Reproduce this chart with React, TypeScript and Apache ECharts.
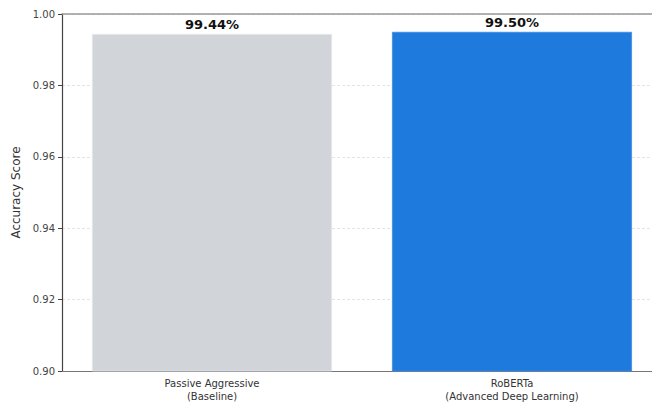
import React, { useEffect, useRef } from "react";
import * as echarts from "echarts";

const categories = ["Passive Aggressive\n(Baseline)", "RoBERTa\n(Advanced Deep Learning)"];
const accuracies = [0.9944, 0.995];
const barColors = ["#d1d4d9", "#1f7ade"];
const yTicks = { min: 0.9, max: 1.0, interval: 0.02 };
const yAxisTitle = "Accuracy Score";

export default function App() {
  const ref = useRef<HTMLDivElement>(null);
  useEffect(() => {
    if (!ref.current) return;
    const chart = echarts.init(ref.current, null, { renderer: "svg" });
    const font = "DejaVu Sans";
    chart.setOption({
      animation: false,
      backgroundColor: "#ffffff",
      grid: { left: 62, top: 14, right: 0, bottom: 33 },
      xAxis: [
        {
          type: "category",
          data: categories,
          position: "bottom",
          axisLine: { lineStyle: { color: "#777", width: 1.2 } },
          axisTick: { alignWithLabel: true, length: 4, lineStyle: { color: "#333" } },
          axisLabel: {
            color: "#333",
            fontFamily: font,
            fontSize: 10,
            lineHeight: 13,
            margin: 6,
          },
        },
        {
          type: "category",
          data: categories,
          position: "top",
          axisLine: { lineStyle: { color: "#999", width: 1.5 } },
          axisTick: { show: false },
          axisLabel: { show: false },
        },
      ],
      yAxis: {
        type: "value",
        min: yTicks.min,
        max: yTicks.max,
        interval: yTicks.interval,
        name: yAxisTitle,
        nameLocation: "middle",
        nameGap: 39,
        nameTextStyle: { color: "#333", fontFamily: font, fontSize: 12 },
        axisLine: { show: true, lineStyle: { color: "#444", width: 1.2 } },
        axisTick: { show: true, length: 4, lineStyle: { color: "#444" } },
        axisLabel: {
          color: "#444",
          fontFamily: font,
          fontSize: 10,
          margin: 7,
          formatter: (v: number) => v.toFixed(2),
        },
        splitLine: { show: true, lineStyle: { color: "#dddddd", type: [3, 2], width: 0.8 } },
      },
      series: [
        {
          type: "bar",
          barWidth: "80%",
          data: accuracies.map((v, i) => ({
            value: v,
            itemStyle: { color: barColors[i], borderColor: i === 0 ? "#e2e4e8" : "#3b8ce6", borderWidth: 0.8 },
          })),
          label: {
            show: true,
            position: "top",
            distance: 3,
            color: "#111",
            fontFamily: font,
            fontWeight: "bold",
            fontSize: 13,
            formatter: (p: any) => (p.value * 100).toFixed(2) + "%",
          },
        },
      ],
    });
    return () => chart.dispose();
  }, []);
  return (
    <div style={{ position: "fixed", left: 0, top: 0, width: 652, height: 404, overflow: "hidden" }}>
      <div ref={ref} style={{ width: 662, height: 404 }} />
    </div>
  );
}
